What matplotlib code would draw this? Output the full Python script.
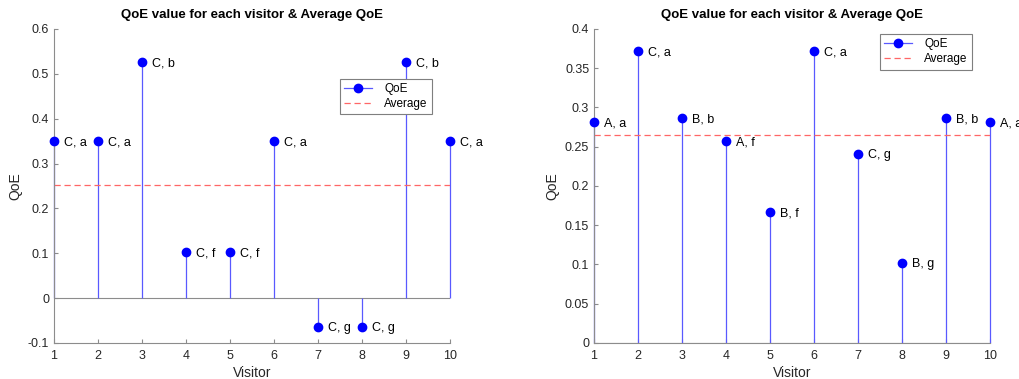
import numpy as np
import matplotlib
matplotlib.use("Agg")
import matplotlib.pyplot as plt
from matplotlib.legend_handler import HandlerLine2D
from matplotlib.lines import Line2D

plt.rcParams['font.family'] = ['Liberation Sans', 'DejaVu Sans']

visitors = list(range(1, 11))

# left chart
qoe_left = [0.35, 0.35, 0.527, 0.102, 0.102, 0.35, -0.064, -0.064, 0.527, 0.35]
labels_left = ["C, a", "C, a", "C, b", "C, f", "C, f", "C, a", "C, g", "C, g", "C, b", "C, a"]
yticks_left = [-0.1, 0, 0.1, 0.2, 0.3, 0.4, 0.5, 0.6]

# right chart
qoe_right = [0.282, 0.372, 0.286, 0.257, 0.167, 0.372, 0.241, 0.102, 0.286, 0.282]
labels_right = ["A, a", "C, a", "B, b", "A, f", "B, f", "C, a", "C, g", "B, g", "B, b", "A, a"]
yticks_right = [0, 0.05, 0.1, 0.15, 0.2, 0.25, 0.3, 0.35, 0.4]

GRAY = "#262626"
SPINE = "#8c8c8c"
STEM = (0.35, 0.35, 1.0)
AVG = (1.0, 0.4, 0.4)


class EndMarkerHandler(HandlerLine2D):
    # MATLAB puts the stem marker at the right end of the legend line
    def get_xdata(self, legend, xdescent, ydescent, width, height, fontsize):
        xdata, _ = super().get_xdata(legend, xdescent, ydescent, width, height, fontsize)
        return xdata, [xdata[-1]]


def draw_panel(ax, values, labels, yticks, legend_anchor):
    ml, sl, bl = ax.stem(visitors, values, linefmt='b-', markerfmt='bo', basefmt=' ')
    plt.setp(sl, linewidth=0.9, color=STEM, clip_on=False)
    plt.setp(ml, markersize=6, clip_on=False, zorder=5)
    ax.plot([visitors[0], visitors[-1]], [0, 0], color=SPINE, linewidth=0.8, zorder=1)

    avg = np.mean(values)
    ax.axhline(avg, color=AVG, linestyle=(0, (5, 3)), linewidth=0.9, zorder=2)

    for x, y, lab in zip(visitors, values, labels):
        ax.annotate(lab, (x, y), xytext=(7, -1), textcoords='offset points',
                    va='center', ha='left', fontsize=9, color='black', annotation_clip=False)

    ax.set_xlim(1, 10)
    ax.set_ylim(yticks[0], yticks[-1])
    ax.set_xticks(visitors)
    ax.set_yticks(yticks)
    ax.set_yticklabels([f"{t:g}" for t in yticks])
    ax.tick_params(direction='in', length=3, labelsize=9, colors=GRAY, color=SPINE)
    ax.tick_params(axis='x', pad=5)
    for side in ['top', 'right']:
        ax.spines[side].set_visible(False)
    for side in ['left', 'bottom']:
        ax.spines[side].set_color(SPINE)
        ax.spines[side].set_linewidth(0.8)
    ax.set_xlabel("Visitor", fontsize=10, color=GRAY, labelpad=3)
    ax.set_ylabel("QoE", fontsize=10, color=GRAY, labelpad=4)
    ax.set_title("QoE value for each visitor & Average QoE", fontsize=9.5,
                 fontweight='bold', pad=8)

    h_qoe = Line2D([], [], color=STEM, linewidth=0.9, marker='o',
                   markersize=6, markerfacecolor='b', markeredgecolor='b')
    h_avg = Line2D([], [], color=AVG, linestyle=(0, (5, 3)), linewidth=0.9)
    leg = ax.legend([h_qoe, h_avg], ["QoE", "Average"], loc='upper left',
                    bbox_to_anchor=legend_anchor, borderaxespad=0, fontsize=8.5,
                    numpoints=1, handler_map={h_qoe: EndMarkerHandler()}, fancybox=False,
                    framealpha=1, edgecolor='#7f7f7f', borderpad=0.35,
                    labelspacing=0.3, handlelength=2.4, handletextpad=1.0)
    leg.get_frame().set_linewidth(0.8)


fig = plt.figure(figsize=(10.2, 3.79), dpi=100)
ax1 = fig.add_axes([0.0529, 0.095, 0.3882, 0.8285])
ax2 = fig.add_axes([0.5824, 0.095, 0.3882, 0.8285])

draw_panel(ax1, qoe_left, labels_left, yticks_left, (0.722, 0.842))
draw_panel(ax2, qoe_right, labels_right, yticks_right, (0.722, 0.985))

fig.savefig("out.png", dpi=100)
